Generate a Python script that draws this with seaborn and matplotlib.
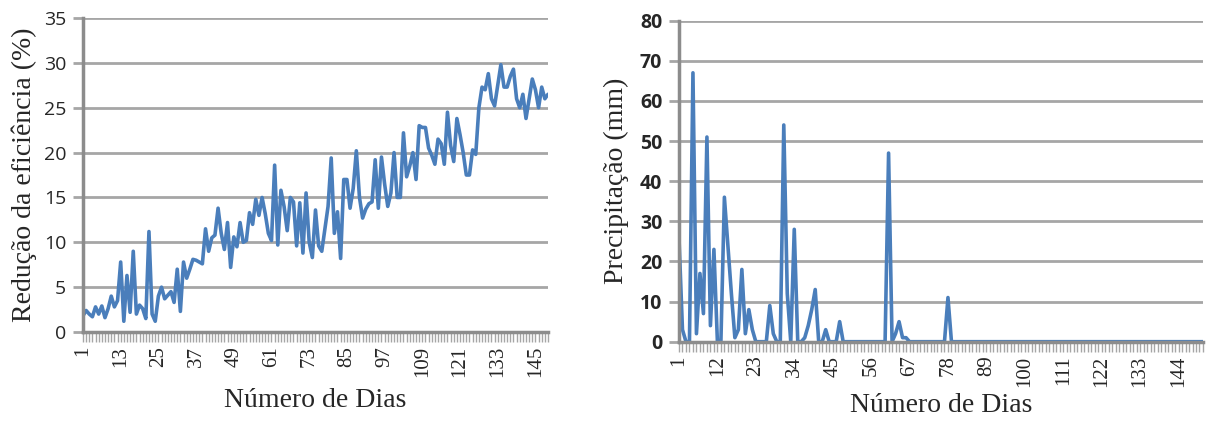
import numpy as np
import pandas as pd
import matplotlib
matplotlib.use("Agg")
import matplotlib.pyplot as plt
import seaborn as sns

# Redução da eficiência (%) - one value per day
eficiencia = [
    1.8, 2.4, 2.0, 1.7, 2.8, 2.0, 2.9, 1.6, 2.6, 4.0,
    2.8, 3.5, 7.8, 1.2, 6.3, 2.2, 9.0, 2.0, 3.0, 2.6,
    1.5, 11.2, 2.0, 1.2, 4.0, 5.0, 3.7, 4.1, 4.5, 3.3,
    7.0, 2.3, 7.8, 6.0, 7.0, 8.1, 8.0, 7.8, 7.6, 11.5,
    9.0, 10.5, 10.8, 13.8, 11.0, 9.2, 12.2, 7.2, 10.6, 9.5,
    12.2, 10.0, 10.2, 13.3, 12.0, 14.8, 13.0, 15.0, 13.2, 11.0,
    10.2, 18.6, 9.7, 15.8, 14.0, 11.3, 15.0, 14.5, 9.6, 14.4,
    8.8, 15.5, 10.0, 8.3, 13.6, 9.6, 9.0, 11.5, 14.0, 19.4,
    11.0, 13.4, 8.2, 17.0, 17.0, 13.8, 16.0, 20.2, 15.0, 12.7,
    13.7, 14.3, 14.5, 19.2, 13.8, 19.5, 16.5, 14.0, 15.5, 20.0,
    15.0, 15.0, 22.2, 17.3, 18.5, 20.0, 17.0, 23.0, 22.8, 22.8,
    20.5, 19.7, 18.7, 21.5, 21.0, 18.7, 24.5, 20.8, 19.0, 23.8,
    22.0, 20.0, 17.5, 17.5, 20.3, 19.8, 25.0, 27.3, 27.0, 28.8,
    26.0, 25.2, 27.5, 29.8, 27.3, 27.3, 28.5, 29.3, 26.0, 25.0,
    26.5, 23.8, 26.0, 28.2, 27.0, 25.0, 27.3, 26.0, 26.5,
]

# Precipitação (mm) - one value per day, days not listed are 0
chuva_dias = [1, 2, 5, 6, 7, 8, 9, 10, 11, 14, 15, 16, 17, 18, 19, 20,
              21, 22, 27, 28, 31, 32, 34, 37, 38, 39, 40, 43, 47,
              61, 63, 64, 65, 66, 78]
chuva_mm = [26, 3, 67, 2, 17, 7, 51, 4, 23, 36, 24, 12, 1, 3, 18, 2,
            8, 3, 9, 2, 54, 12, 28, 1, 4, 8, 13, 3, 5,
            47, 2, 5, 1, 1, 11]
n_dias_chuva = 151

ticks_esq = list(range(1, 150, 12))
ticks_dir = list(range(1, 150, 11))

df1 = pd.DataFrame({"dia": np.arange(1, len(eficiencia) + 1), "valor": eficiencia})
precip = np.zeros(n_dias_chuva)
for d, v in zip(chuva_dias, chuva_mm):
    precip[d - 1] = v
df2 = pd.DataFrame({"dia": np.arange(1, n_dias_chuva + 1), "valor": precip})

sns.set_style("white")
plt.rcParams["font.family"] = ["Liberation Serif", "DejaVu Serif"]

azul = "#4a7ebb"
cinza = "#8c8c8c"
grade = "#a6a6a6"

fig = plt.figure(figsize=(12.06, 4.23), dpi=100)
ax1 = fig.add_axes([0.0688, 0.2151, 0.3856, 0.7423])
ax2 = fig.add_axes([0.563, 0.1922, 0.4345, 0.759])


def estilo(ax, df, ymax, ystep, xticks, ylabel, peso, xpad, ypad):
    sns.lineplot(data=df, x="dia", y="valor", ax=ax, color=azul, linewidth=2.6)
    ax.set_xlim(1, len(df))
    ax.set_ylim(0, ymax)
    ax.set_yticks(range(0, ymax + 1, ystep))
    ax.set_xticks(xticks)
    ax.set_xticks(range(1, len(df) + 1), minor=True)
    ax.grid(axis="y", color=grade, linewidth=2)
    ax.set_axisbelow(True)
    for s in ["top", "right"]:
        ax.spines[s].set_visible(False)
    for s in ["left", "bottom"]:
        ax.spines[s].set_color(cinza)
        ax.spines[s].set_linewidth(2.5)
    ax.tick_params(axis="y", which="major", left=True, length=7, width=2,
                   color=grade, labelsize=14, pad=5, labelcolor="#262626")
    ax.tick_params(axis="x", which="both", bottom=True)
    ax.tick_params(axis="x", which="major", length=7, width=1, color=grade,
                   labelsize=15, pad=3, rotation=90)
    ax.tick_params(axis="x", which="minor", length=7, width=1, color=grade)
    for lab in ax.get_yticklabels():
        lab.set_family(["Open Sans", "DejaVu Sans"])
        lab.set_fontweight(peso)
    ax.set_xlabel("Número de Dias", fontsize=20, labelpad=xpad)
    ax.set_ylabel(ylabel, fontsize=20, labelpad=ypad)


estilo(ax1, df1, 35, 5, ticks_esq, "Redução da eficiência (%)", "normal", 8, 5)
estilo(ax2, df2, 80, 10, ticks_dir, "Precipitação (mm)", "bold", 4, 8)

fig.savefig("out.png", dpi=100)
